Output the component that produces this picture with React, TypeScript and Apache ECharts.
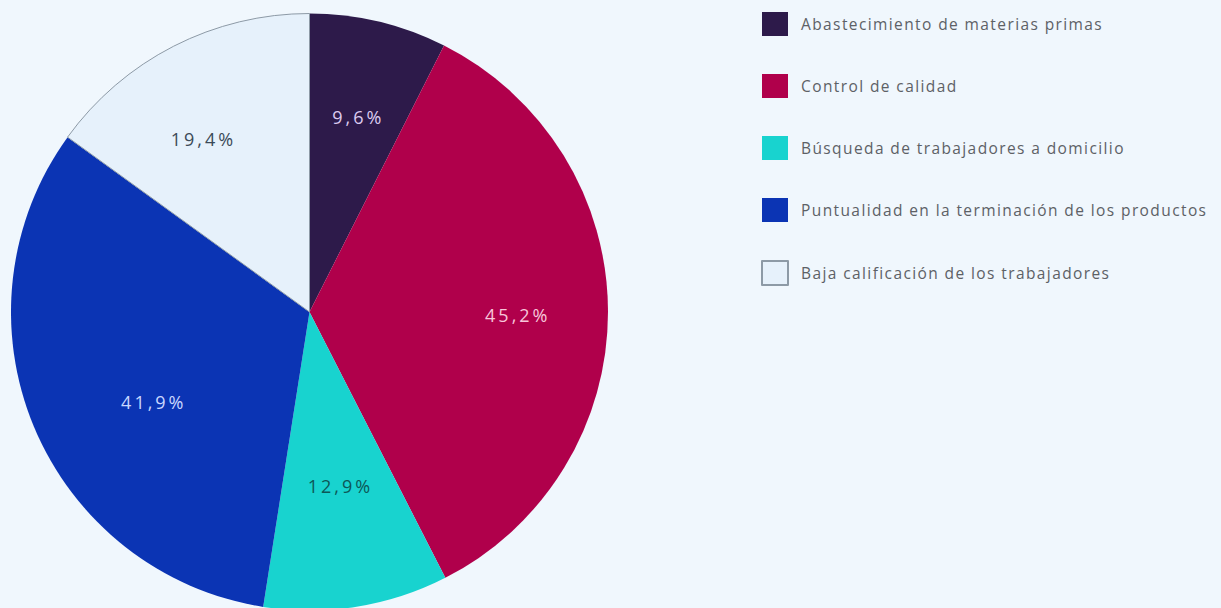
import React, { useEffect, useRef } from "react";
import * as echarts from "echarts";

const categories = [
  "Abastecimiento de materias primas",
  "Control de calidad",
  "Búsqueda de trabajadores a domicilio",
  "Puntualidad en la terminación de los productos",
  "Baja calificación de los trabajadores",
];
const values = [9.6, 45.2, 12.9, 41.9, 19.4];
const colors = ["#2d1a4a", "#b0004b", "#18d3cf", "#0b34b4", "#e6f1fb"];
const labelColors = ["#dccbf0", "#f7c6da", "#0d5858", "#c9d7ff", "#3b4a58"];
const labelOffsets = [
  [2, 2],
  [6, 3],
  [-1, -26],
  [31, 12],
  [-14, 7],
];

const fmt = (v: number) => v.toFixed(1).replace(".", ",") + "%";

export default function App() {
  const ref = useRef<HTMLDivElement>(null);
  useEffect(() => {
    if (!ref.current) return;
    const chart = echarts.init(ref.current, undefined, { renderer: "svg" });
    const R = 298.5;
    const C = [309.5, 312];
    chart.setOption({
      animation: false,
      backgroundColor: "#f0f7fd",
      legend: {
        orient: "vertical",
        left: 756,
        top: 7,
        itemWidth: 26,
        itemHeight: 24,
        itemGap: 38,
        icon: "rect",
        selectedMode: false,
        textStyle: {
          color: "#5d6166",
          fontSize: 15.5,
          fontFamily: "Open Sans",
          padding: [0, 0, 0, 8],
        },
        data: categories,
      },
      series: [
        {
          type: "pie",
          center: C,
          radius: [0, R],
          startAngle: 90,
          clockwise: true,
          label: { show: false },
          labelLine: { show: false },
          emphasis: { disabled: true },
          data: categories.map((name, i) => ({
            name,
            value: values[i],
            itemStyle:
              i === 4
                ? { color: colors[i], borderColor: "#8d9aa6", borderWidth: 1 }
                : { color: colors[i], borderWidth: 0 },
          })),
        },
        {
          type: "pie",
          center: C,
          radius: [100, R],
          startAngle: 90,
          clockwise: true,
          silent: true,
          legendHoverLink: false,
          labelLine: { show: false },
          emphasis: { disabled: true },
          itemStyle: { color: "rgba(0,0,0,0)", borderWidth: 0 },
          label: {
            show: true,
            position: "inside",
            fontSize: 18,
            fontFamily: "Open Sans",
            formatter: (p: any) => fmt(p.value),
          },
          data: categories.map((name, i) => ({
            name,
            value: values[i],
            label: { color: labelColors[i], offset: labelOffsets[i] },
          })),
        },
      ],
    });
    return () => chart.dispose();
  }, []);
  return (
    <>
      <style>{`#root svg text { letter-spacing: 1.4px; } #root svg text[text-anchor="middle"] { letter-spacing: 3px; }`}</style>
      <div
        ref={ref}
        style={{ position: "fixed", left: 0, top: 0, width: 1221, height: 608 }}
      />
    </>
  );
}
